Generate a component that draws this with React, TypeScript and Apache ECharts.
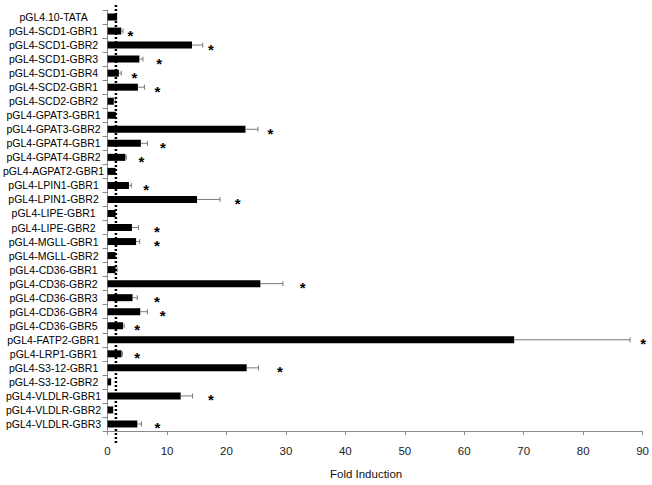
import React, { useEffect, useRef } from "react";
import * as echarts from "echarts";

const categories = [
  "pGL4.10-TATA", "pGL4-SCD1-GBR1", "pGL4-SCD1-GBR2", "pGL4-SCD1-GBR3", "pGL4-SCD1-GBR4",
  "pGL4-SCD2-GBR1", "pGL4-SCD2-GBR2", "pGL4-GPAT3-GBR1", "pGL4-GPAT3-GBR2", "pGL4-GPAT4-GBR1",
  "pGL4-GPAT4-GBR2", "pGL4-AGPAT2-GBR1", "pGL4-LPIN1-GBR1", "pGL4-LPIN1-GBR2", "pGL4-LIPE-GBR1",
  "pGL4-LIPE-GBR2", "pGL4-MGLL-GBR1", "pGL4-MGLL-GBR2", "pGL4-CD36-GBR1", "pGL4-CD36-GBR2",
  "pGL4-CD36-GBR3", "pGL4-CD36-GBR4", "pGL4-CD36-GBR5", "pGL4-FATP2-GBR1", "pGL4-LRP1-GBR1",
  "pGL4-S3-12-GBR1", "pGL4-S3-12-GBR2", "pGL4-VLDLR-GBR1", "pGL4-VLDLR-GBR2", "pGL4-VLDLR-GBR3",
];

const foldValues = [
  1.6, 2.3, 14.2, 5.35, 1.9, 5.1, 1.05, 1.4, 23.2, 5.6,
  3.0, 1.35, 3.6, 15.05, 1.35, 4.1, 4.8, 1.35, 1.35, 25.7,
  4.2, 5.5, 2.6, 68.4, 2.35, 23.4, 0.6, 12.3, 0.95, 5.0,
];

const errorValues = [
  0, 0.3, 1.8, 0.6, 0.4, 1.1, 0.25, 0, 2.1, 1.1,
  0.15, 0, 0.4, 3.85, 0, 1.1, 0.6, 0, 0.25, 3.8,
  0.8, 1.2, 0.2, 19.5, 0.15, 2.0, 0, 2.0, 0, 0.7,
];

const starPositions: (number | null)[] = [
  null, 3.85, 17.4, 8.7, 4.5, 8.4, null, null, 27.4, 9.3,
  5.7, null, 6.5, 21.9, null, 8.3, 8.3, null, null, 32.8,
  8.3, 9.25, 5.0, 90.1, 5.0, 29.0, null, 17.4, null, 8.4,
];

const referenceLine = 1.4;
const xTicks = { min: 0, max: 90, interval: 10 };

export default function App() {
  const ref = useRef<HTMLDivElement>(null);
  useEffect(() => {
    document.body.style.margin = "0";
    if (!ref.current) return;
    const chart = echarts.init(ref.current, null, { renderer: "svg" });
    const font = "'Liberation Sans', Arial, sans-serif";

    const errData = foldValues.map((v, i) => [v, i, v + errorValues[i]]);
    const starData = starPositions
      .map((s, i) => (s == null ? null : [s, i]))
      .filter((d) => d != null);

    chart.setOption({
      animation: false,
      grid: { left: 107, right: 7, top: 10, bottom: 48, containLabel: false },
      xAxis: {
        type: "value",
        min: xTicks.min,
        max: xTicks.max,
        interval: xTicks.interval,
        splitLine: { show: false },
        axisLine: { show: true, lineStyle: { color: "#8a8a8a", width: 1 } },
        axisTick: { show: true, length: 4, lineStyle: { color: "#8a8a8a" } },
        axisLabel: { color: "#222", fontSize: 11.5, fontFamily: font, margin: 14 },
        name: "Fold Induction",
        nameLocation: "middle",
        nameGap: 37,
        nameTextStyle: { color: "#111", fontSize: 11.5, fontFamily: font, padding: [0, 18, 0, 0] },
      },
      yAxis: {
        type: "category",
        data: categories,
        inverse: true,
        axisLine: { show: true, lineStyle: { color: "#8a8a8a", width: 1 } },
        axisTick: { show: true, length: 5, lineStyle: { color: "#8a8a8a" } },
        axisLabel: {
          interval: 0,
          color: "#000",
          fontSize: 10.5,
          fontFamily: font,
          align: "center",
          margin: 54,
        },
      },
      series: [
        {
          type: "bar",
          data: foldValues,
          barWidth: 7,
          itemStyle: { color: "#000" },
          z: 2,
        },
        {
          type: "custom",
          data: errData,
          z: 3,
          renderItem: (params: any, api: any) => {
            const v = api.value(0);
            const idx = api.value(1);
            const hi = api.value(2);
            if (hi - v <= 0.001) return null;
            const p0 = api.coord([v, idx]);
            const p1 = api.coord([hi, idx]);
            const style = { stroke: "#7a7a7a", lineWidth: 1 };
            return {
              type: "group",
              children: [
                { type: "line", shape: { x1: p0[0], y1: p0[1], x2: p1[0], y2: p1[1] }, style },
                { type: "line", shape: { x1: p1[0], y1: p1[1] - 2.5, x2: p1[0], y2: p1[1] + 2.5 }, style },
              ],
            };
          },
        },
        {
          type: "custom",
          data: starData,
          clip: false,
          z: 4,
          renderItem: (params: any, api: any) => {
            const p = api.coord([api.value(0), api.value(1)]);
            return {
              type: "text",
              x: p[0],
              y: p[1] + 4,
              style: {
                text: "*",
                fill: "#000",
                fontSize: 15,
                lineHeight: 11,
                fontWeight: "bold",
                fontFamily: font,
                align: "center",
                verticalAlign: "middle",
              },
            };
          },
        },
        {
          type: "custom",
          data: [[referenceLine, 0]],
          clip: false,
          z: 5,
          renderItem: (params: any, api: any) => {
            const cs = params.coordSys;
            const x = api.coord([api.value(0), 0])[0];
            return {
              type: "line",
              shape: { x1: x, y1: cs.y - 5, x2: x, y2: cs.y + cs.height + 14 },
              style: { stroke: "#000", lineWidth: 2.5, lineDash: [2, 2] },
            };
          },
        },
      ],
    });
    return () => chart.dispose();
  }, []);
  return <div ref={ref} style={{ width: 652, height: 485 }} />;
}
